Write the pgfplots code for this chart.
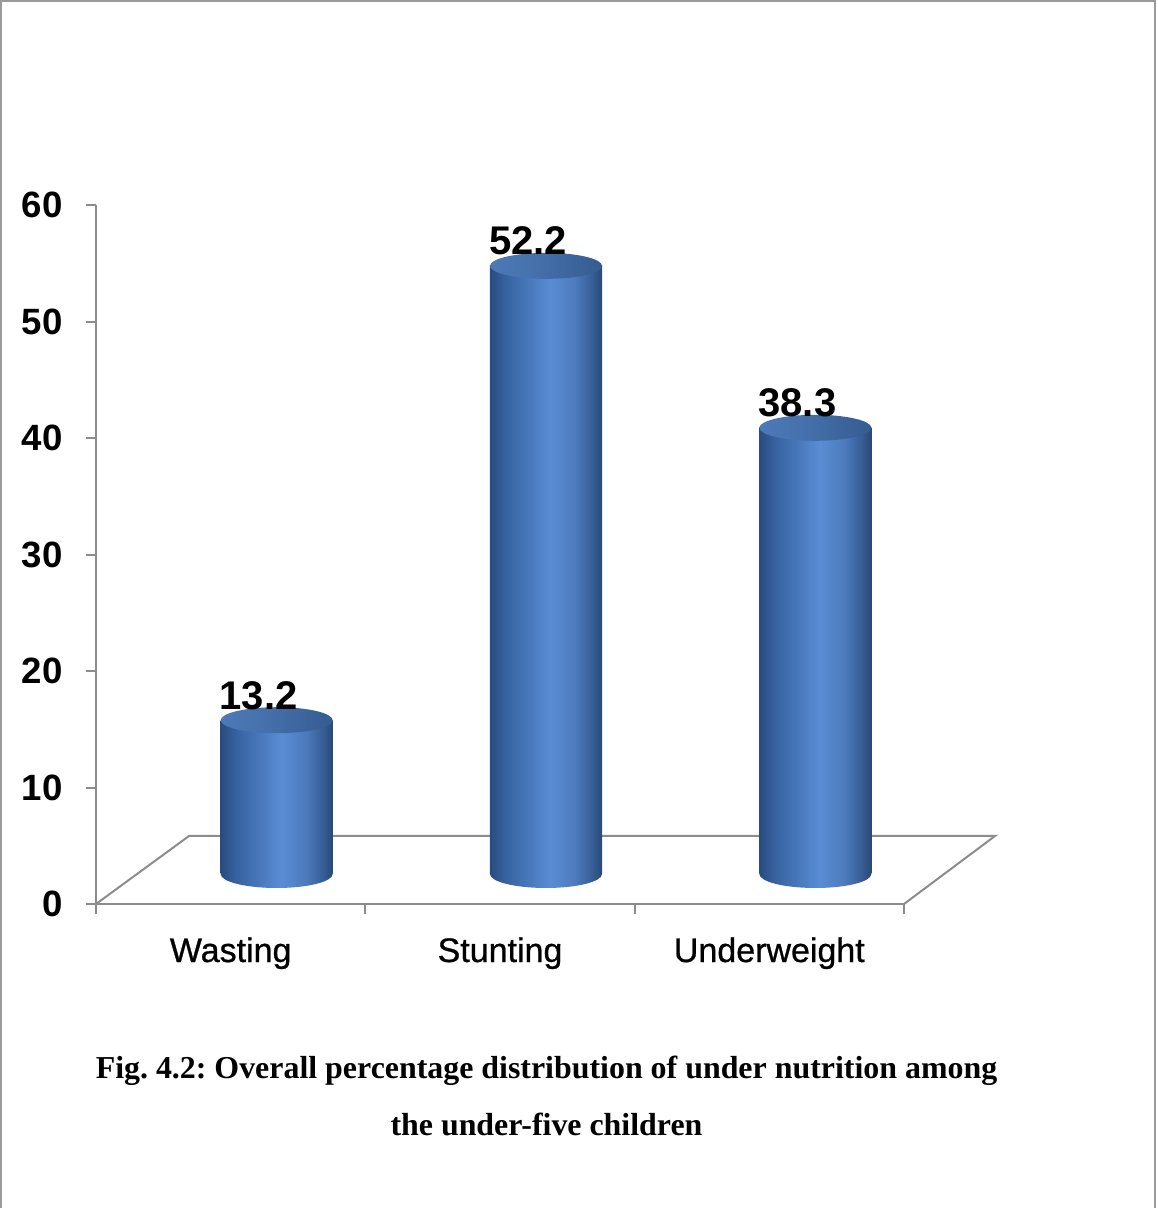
\documentclass[border=0pt]{standalone}
\usepackage{pgfplots}
\pgfplotsset{compat=1.18}
\usepackage{fontspec}
\setmainfont{Liberation Sans}
\newfontfamily\timesfont{Liberation Serif}
\newfontfamily\catfont{Liberation Sans}[FakeBold=0.8]
\frenchspacing
\definecolor{axisgray}{RGB}{140,140,140}
\definecolor{framegray}{RGB}{155,155,155}

\pgfdeclarehorizontalshading{cylside}{100bp}{rgb(0bp)=(0.157,0.298,0.502); rgb(25bp)=(0.157,0.298,0.502); rgb(32bp)=(0.216,0.384,0.627); rgb(52bp)=(0.349,0.553,0.831); rgb(63bp)=(0.30,0.48,0.74); rgb(71bp)=(0.21,0.36,0.58); rgb(75bp)=(0.165,0.282,0.455); rgb(100bp)=(0.165,0.282,0.455)}
\pgfdeclarehorizontalshading{cyltop}{100bp}{rgb(0bp)=(0.30,0.48,0.72); rgb(25bp)=(0.30,0.48,0.72); rgb(45bp)=(0.27,0.44,0.67); rgb(75bp)=(0.21,0.36,0.57); rgb(100bp)=(0.21,0.36,0.57)}

\pgfdeclareplotmark{cyltopmark}{\shade[draw=none, shading=cyltop] (0pt,0pt) ellipse [x radius=28pt, y radius=6.5pt];}
\pgfdeclareplotmark{cylbotmark}{\shade[draw=none, shading=cylside] (0pt,0pt) ellipse [x radius=28pt, y radius=7pt];}

\begin{document}
\begin{tikzpicture}
\useasboundingbox (-48pt,-152pt) rectangle (530.5pt,452pt);
\draw[framegray, line width=1pt] (-47.5pt,-152pt) -- (-47.5pt,451.5pt) -- (529.5pt,451.5pt) -- (529.5pt,-152pt);

% front plane axis with floor
\begin{axis}[
  at={(0pt,0pt)}, anchor=south west,
  scale only axis, width=404pt, height=349.5pt,
  xmin=0, xmax=3, ymin=0, ymax=60,
  axis lines*=left,
  axis line style={axisgray, line width=1pt},
  tick style={axisgray, line width=1pt},
  tick align=outside, major tick length=5pt,
  xtick={0,1,2,3}, xticklabels={,,,},
  extra x ticks={0.5,1.5,2.5},
  extra x tick labels={Wasting,Stunting,Underweight},
  extra x tick style={major tick length=0pt,
     xticklabel style={anchor=base, yshift=-29pt, font=\catfont\fontsize{17}{20}\selectfont}},
  ytick={0,10,20,30,40,50,60},
  yticklabel style={anchor=east, inner sep=0pt, xshift=-11.5pt, font=\bfseries\fontsize{18.3}{21}\selectfont},
  /pgf/number format/assume math mode=true,
  clip=false,
]
\draw[axisgray, line width=1pt] (axis cs:0,0) -- (axis cs:0.3455,5.84) -- (axis cs:3.338,5.84) -- (axis cs:3,0);
\end{axis}

% cylinders at mid depth
\begin{axis}[
  at={(23pt,15pt)}, anchor=south west,
  scale only axis, width=404pt, height=349.5pt,
  xmin=0, xmax=3, ymin=0, ymax=60,
  hide axis, clip=false,
  /pgf/number format/assume math mode=true,
]
\addplot[only marks, mark=cylbotmark, mark options={draw=none}] coordinates {(0.5,0) (1.5,0) (2.5,0)};
\addplot[ybar, bar shift=0pt, bar width=0.416, draw=none, shade, shading=cylside] coordinates {(0.5,13.2)};
\addplot[ybar, bar shift=0pt, bar width=0.416, draw=none, shade, shading=cylside] coordinates {(1.5,52.2)};
\addplot[ybar, bar shift=0pt, bar width=0.416, draw=none, shade, shading=cylside] coordinates {(2.5,38.3)};
\addplot[only marks, mark=cyltopmark, mark options={draw=none}, nodes near coords,
  nodes near coords style={anchor=base, inner sep=0pt, xshift=-9pt, yshift=5.5pt, black,
     font=\bfseries\fontsize{20}{24}\selectfont}]
  coordinates {(0.5,13.2) (1.5,52.2) (2.5,38.3)};
\end{axis}

\node[anchor=base, font=\timesfont\bfseries\fontsize{15.95}{19}\selectfont] at (225.25pt,-87pt)
  {Fig. 4.2: Overall percentage distribution of under nutrition among};
\node[anchor=base, font=\timesfont\bfseries\fontsize{15.95}{19}\selectfont] at (225.25pt,-115.5pt)
  {the under-five children};
\end{tikzpicture}
\end{document}
